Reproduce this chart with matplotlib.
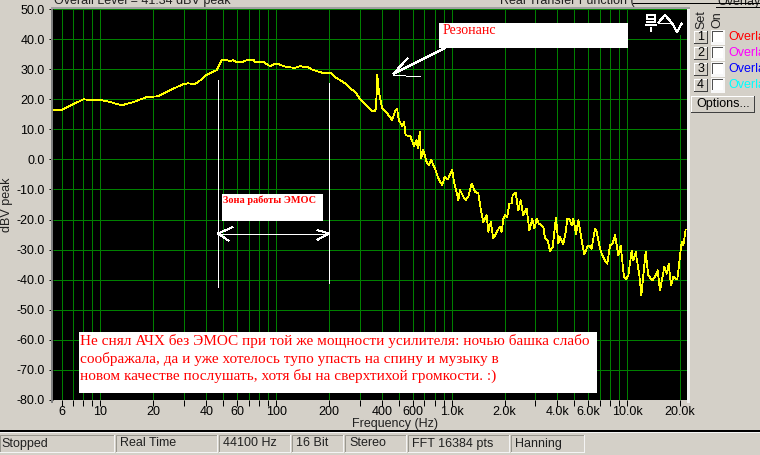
import matplotlib
matplotlib.use('Agg')
import matplotlib.pyplot as plt
from matplotlib.patches import Rectangle
from matplotlib.ticker import NullLocator

BG='#d4d0c8'
GREEN='#008000'
SANS='Liberation Sans'
SERIF='Liberation Serif'
PX=0.72 # one pixel at dpi 100

freq_hz=[5.37,6.0,8.0,8.7,10,10.8,13.2,15.3,18.3,21.3,24.9,29.6,31.5,34.5,37,40.4,46,49,52.5,54.8,56.7,60,64,68,74.5,
         76,85,92.5,97.8,103,113,128,137,146,152,160,178,190,204,218,241,270,282,301,323,345,355,360,365,370,374,
         377,386,402,429,458,479,489,500,523,535,546,583,609,630,643,658,668,689,719,741,763,809,838,883,912,953,
         973,1007,1031,1091,1115,1164,1202,1243,
         1299,1357,1418,1462,1514,1582,1617,1667,1726,1804,1884,1925,1968,2011,2074,2129,2195,2224,2314,2396,2471,
         2558,2672,2768,2879,2955,3047,3128,3326,3400,3520,3629,3758,3926,4049,4138,4322,4476,4555,4676,4822,4929,
         5104,5263,5499,5693,5921,6078,6267,6547,6692,6989,7206,7464,7696,7971,8254,8511,8895,9166,9576,9831,10136,
         10590,10824,11161,11711,12023,12722,13175,13888,14382,14894,15352,16255,16760,17206,17740,18289,19274,
         19957,20400,20852,21500]
level_db=[16.4,16.4,20,19.7,19.7,19.4,18,19,20.7,21,23,25,25.3,25,26.3,28.2,29.7,33,33,32.7,33,32.3,32.3,33,33,
          32.3,32.3,31,31.7,31.7,30.8,30.4,31,30.7,30.7,29.9,29,28.6,28.8,27.2,25.8,23.2,22.5,20,18.3,16.7,16,16.2,
          15.9,17,22,
          28.1,22,17,15.3,13.1,16.4,16.7,13.1,11.1,12.6,8.1,7.6,4.4,6.4,3.7,9.2,0.3,3.1,-0.8,-1.9,0,-3.6,-6.3,-8.6,
          -5.8,-6.7,-5.2,-3.6,-7.4,-13.5,-10.2,-12.4,-13.5,-12.4,
          -8,-10.8,-11.3,-16.3,-20.8,-18.6,-24.1,-20.8,-26.3,-24.1,-22.4,-24.1,-19.7,-18.6,-19.1,-14.7,-14.7,-11.9,
          -11.1,-16.9,-13.6,-18.6,-16.3,-23.6,-19.7,-23,-19.7,-21.3,-22.4,-26.3,-26.9,-30.4,-29.1,-19.3,-28,-25.8,
          -28.3,-23.6,-19.7,-19.7,-21.9,-19.7,-24.7,-20.2,-26.9,-31.6,-29.1,-28.6,-29.7,-23,-24.1,-29.7,-31.9,-33.6,
          -34.7,-28.6,-28,-25.2,-31.9,-28.6,-39.1,-39.9,-38.6,-30.4,-33.6,-30.8,-38.6,-45.2,-30.8,-38.6,-40.2,-39.1,
          -36.9,-43.6,-35.8,-38,-34.7,-41.9,-39.1,-39.9,-32.4,-27.4,-28.6,-23.3]

grid_freq=[6,7,8,9,10,20,30,40,50,60,70,80,90,100,200,300,400,500,600,700,800,900,
           1000,2000,3000,4000,5000,6000,7000,8000,9000,10000,20000]
freq_labels=['6','','','','10','20','','40','','60','','','','100','200','','400','','600','','','',
             '1.0k','2.0k','','4.0k','','6.0k','','','','10.0k','20.0k']
db_ticks=[50,40,30,20,10,0,-10,-20,-30,-40,-50,-60,-70,-80]
db_labels=['50.0','40.0','30.0','20.0','10.0','0.0','-10.0','-20.0','-30.0','-40.0','-50.0','-60.0','-70.0','-80.0']

status_text=['Stopped','Real Time','44100 Hz','16 Bit','Stereo','FFT 16384 pts','Hanning']
status_left=[0,116,219,292,345,408,511]
status_right=[114,217,290,343,406,509,584]
overlay_names=['Overla','Overla','Overla','Overla']
overlay_colors=['#ff0000','#ff00ff','#0000ff','#00ffff']
note_lines=['Не снял АЧХ без ЭМОС при той же мощности усилителя: ночью башка слабо',
            'соображала, да и уже хотелось тупо упасть на спину и музыку в',
            'новом качестве послушать, хотя бы на сверхтихой громкости. :)']

fig=plt.figure(figsize=(7.6,4.55),dpi=100,facecolor=BG)
ax=fig.add_axes([53/760,55/455,634/760,391/455],facecolor='black')
ax.set_xscale('log')
ax.set_xlim(5.365,21878)
ax.set_ylim(-80,50)
ax.set_xticks(grid_freq)
ax.set_xticklabels(freq_labels,family=SANS,fontsize=9)
ax.xaxis.set_minor_locator(NullLocator())
ax.set_yticks(db_ticks)
ax.set_yticklabels(db_labels,family=SANS,fontsize=9)
ax.tick_params(axis='x',length=4,width=PX,pad=0.5,color='black')
ax.tick_params(axis='y',length=3,width=PX,pad=3,color='black')
ax.grid(True,color=GREEN,linewidth=PX,antialiased=False)
ax.set_axisbelow(True)
for s in ax.spines.values():
    s.set_visible(False)
ax.plot(freq_hz,level_db,color='#ffff00',linewidth=0.55,antialiased=False,zorder=3)

# overlay in screen pixels for the window parts and pasted-on notes
ov=fig.add_axes([0,0,1,1],facecolor='none')
ov.set_xlim(0,760)
ov.set_ylim(455,0)
ov.axis('off')

def box(x0,y0,x1,y1,fc,ec='none',lw=0,z=2):
    ov.add_patch(Rectangle((x0,y0),x1-x0,y1-y0,facecolor=fc,edgecolor=ec,linewidth=lw,zorder=z))

def line(xs,ys,c='white',lw=PX,z=4):
    ov.plot(xs,ys,color=c,linewidth=lw,antialiased=False,zorder=z,solid_capstyle='butt')

# plot frame
box(51,8,53,403,'#808080')
box(51,7,690,9,'#a0a0a0')
box(687,9,690,403,'#f0f0f0')

# header, cut off by the top edge
ov.text(54,4,'Overall Level = 41.34 dBV peak',family=SANS,fontsize=9,color='#202020',ha='left',va='baseline',clip_on=True)
ov.text(500,4,'Real Transfer Function (',family=SANS,fontsize=9,color='#202020',ha='left',va='baseline',clip_on=True)
ov.text(717,5,'Overlays',family=SANS,fontsize=9,color='#202020',ha='left',va='baseline',clip_on=True)
line([633,760],[2.5,2.5],'black')
line([716,760],[6.5,6.5],'black')

# S/T icon corner
box(628,10,686,35,'black')
box(646,14,656,16,'white',z=3)
box(646,14,648,20,'white',z=3)
box(646,18,656,20,'white',z=3)
box(654,14,656,23,'white',z=3)
box(646,21,656,23,'white',z=3)
box(645,24,657,25.5,'white',z=3)
box(650,27,652,32,'white',z=3)
line([658,665,672,677,682],[23,15,23,32,23],'white')
line([658,672],[23,23],'white')

# notes
box(222,194,323,221,'white')
ov.text(223,200.5,'Зона работы ЭМОС',family=SERIF,fontsize=7.4,fontweight='bold',color='#ff0000',va='center',zorder=5)
box(439,23,628,48,'white')
ov.text(443,31,'Резонанс',family=SERIF,fontsize=10,color='#ff0000',va='center',zorder=5)
line([445,393],[48,74])
line([393,408],[74,58])
line([393,405],[74.5,74.5])
line([406,420],[75.5,75.5])
line([217.5,217.5],[80,287])
line([328.5,328.5],[83,283])
line([218,329],[233.5,233.5])
line([233,218,229],[227,233.5,241])
line([317,329,317],[230,233.5,240])
box(79,332,597,392.7,'white')
for yy,txt in zip([341.5,358.5,376],note_lines):
    ov.text(80,yy,txt,family=SERIF,fontsize=11,color='#ff0000',va='center',zorder=5)

# axis titles
ov.text(7,205,'dBV peak',family=SANS,fontsize=9,rotation=90,ha='center',va='center',color='#202020')
ov.text(394.5,423.5,'Frequency (Hz)',family=SANS,fontsize=9,ha='center',va='center',color='#202020')

# overlay panel
ov.text(701,20,'Set',family=SANS,fontsize=9,rotation=90,ha='center',va='center',color='#202020')
ov.text(717,20,'On',family=SANS,fontsize=9,rotation=90,ha='center',va='center',color='#202020')
for i in range(4):
    y0=31+16*i
    box(694,y0,708,y0+13,'#404040')
    box(694,y0,707,y0+12,'white',z=3)
    box(695,y0+1,707,y0+12,BG,z=3)
    ov.text(700.5,y0+6.5,str(i+1),family=SANS,fontsize=9,ha='center',va='center',color='black',zorder=5)
    box(711,y0-1,725,y0+14,'#f8f8f8')
    box(712,y0,723,y0+11,'#505050',z=3)
    box(713,y0+1,723,y0+11,'white',z=3)
    ov.text(728,y0+6.5,overlay_names[i],family=SANS,fontsize=9,color=overlay_colors[i],va='center',zorder=5)
box(691,96,755,113,'#404040')
box(691,96,754,112,'white',z=3)
box(692,97,754,112,BG,z=3)
ov.text(723,104,'Options...',family=SANS,fontsize=9,ha='center',va='center',color='black',zorder=5)

# status bar
line([0,760],[430.5,430.5],'black',1.2)
line([0,760],[432,432],'#f4f4f4')
for x0,x1,txt in zip(status_left,status_right,status_text):
    ov.add_patch(Rectangle((x0,435),x1-x0,17,facecolor=BG,edgecolor='#9a9890',linewidth=PX))
    line([x0,x1],[452,452],'#f4f4f4')
    line([x1,x1],[435,452],'#f4f4f4')
    ov.text(x0+4 if x0>0 else 1,443.5,txt,family=SANS,fontsize=9,va='center',color='#202020')

fig.savefig('out.png',dpi=100,facecolor=BG)
